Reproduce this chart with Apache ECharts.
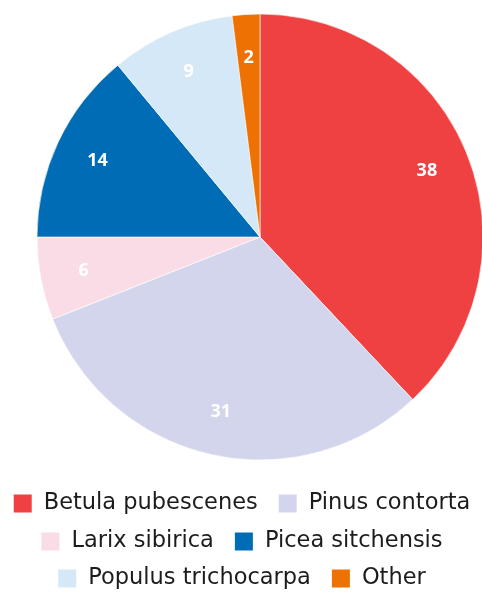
<!DOCTYPE html>
<html>
<head>
<meta charset="utf-8">
<script src="https://cdn.jsdelivr.net/npm/echarts@6/dist/echarts.min.js"></script>
<style>
html, body { margin: 0; padding: 0; background: #fff; }
#main { width: 482px; height: 592px; }
</style>
</head>
<body>
<div id="main"></div>
<script>
var species = ['Betula pubescenes', 'Pinus contorta', 'Larix sibirica', 'Picea sitchensis', 'Populus trichocarpa', 'Other'];
var shares = [38, 31, 6, 14, 9, 2];
var colours = ['#ef4141', '#d3d5ec', '#fadce6', '#006cb6', '#d4e8f8', '#ee7203'];

var data = species.map(function(name, i) {
	return { name: name, value: shares[i], itemStyle: { color: colours[i] } };
});

function legendRow(names, top) {
	return {
		data: names,
		top: top,
		left: 'center',
		padding: 0,
		icon: 'rect',
		itemWidth: 20,
		itemHeight: 20,
		itemGap: 19,
		textStyle: { fontFamily: 'DejaVu Sans', fontSize: 22.5, color: '#1c1c1c', padding: [0, 0, 0, 6] },
		selectedMode: false
	};
}

var myChart = echarts.init(document.getElementById('main'));
var option = {
	animation: false,
	legend: [
		legendRow(species.slice(0, 2), 492),
		legendRow(species.slice(2, 4), 530),
		legendRow(species.slice(4, 6), 567)
	],
	series: [{
		type: 'pie',
		center: [260, 237],
		radius: [0, 223],
		startAngle: 90,
		clockwise: true,
		data: data,
		itemStyle: { borderColor: '#fff', borderWidth: 0.6 },
		label: { show: false },
		labelLine: { show: false },
		emphasis: { disabled: true }
	}, {
		// transparent ring only used to place the value labels
		type: 'pie',
		center: [260, 237],
		radius: [130, 223],
		startAngle: 90,
		clockwise: true,
		silent: true,
		data: species.map(function(name, i) { return { name: name, value: shares[i] }; }),
		itemStyle: { color: 'rgba(0,0,0,0)' },
		label: {
			show: true,
			position: 'inside',
			formatter: '{c}',
			color: '#fff',
			fontFamily: 'Open Sans',
			fontWeight: 'bold',
			fontSize: 18
		},
		labelLine: { show: false },
		emphasis: { disabled: true }
	}]
};
myChart.setOption(option);
</script>
</body>
</html>
